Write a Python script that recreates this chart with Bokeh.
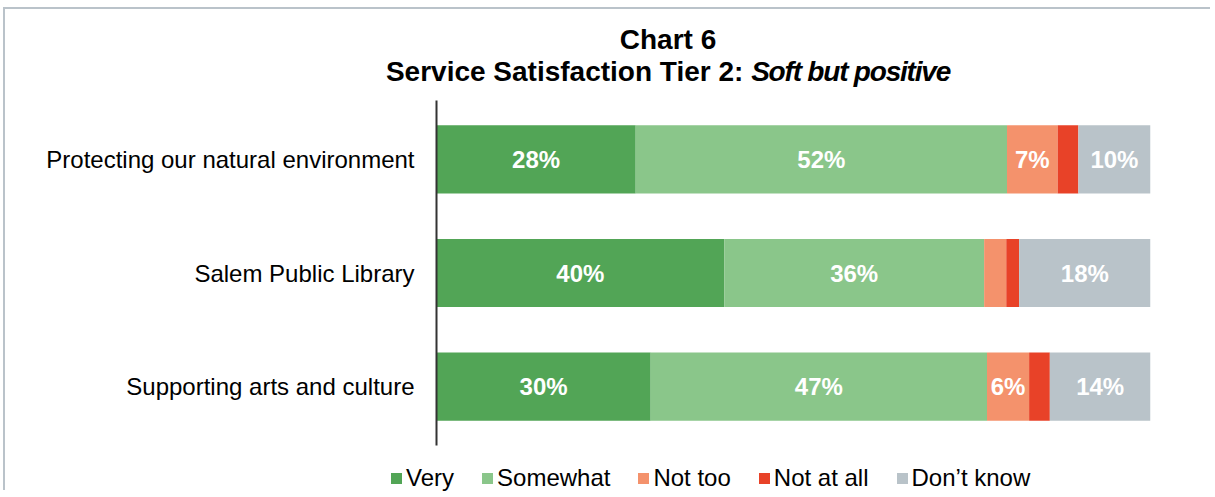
from bokeh.plotting import figure
from bokeh.layouts import column
from bokeh.models import ColumnDataSource, FactorRange, Range1d, LabelSet, Div
from bokeh.core.properties import value
from bokeh.embed import file_html
from bokeh.resources import INLINE

# ---- data ----
categories = ["Protecting our natural environment", "Salem Public Library", "Supporting arts and culture"]
series_names = ["Very", "Somewhat", "Not too", "Not at all", "Don\u2019t know"]
very = [27.9, 40.3, 30.0]
somewhat = [52.0, 36.4, 47.1]
not_too = [7.1, 3.1, 5.9]
not_at_all = [2.9, 1.8, 2.9]
dont_know = [10.1, 18.4, 14.1]
colors = ["#52A556", "#8AC68A", "#F4926C", "#E84228", "#B9C3C9"]
title_line1 = "Chart 6"
title_line2a = "Service Satisfaction Tier 2:"
title_line2b = "Soft but positive"

keys = ["very", "somewhat", "not_too", "not_at_all", "dont_know"]
series = [very, somewhat, not_too, not_at_all, dont_know]

FONT = "Liberation Sans"
W = 1205

# ---- title (HTML text) ----
title_html = (
    f'<div style="box-sizing:border-box;width:{W}px;padding-left:121px;padding-top:15px;text-align:center;'
    f"font-family:'{FONT}',Arial,sans-serif;font-weight:bold;font-size:28px;line-height:32px;color:#000;\">"
    f'{title_line1}<br>{title_line2a} <i style="letter-spacing:-1.2px">{title_line2b}</i></div>'
)
title = Div(text=title_html, width=W, height=78, margin=(0, 0, 0, 0))

# ---- main figure ----
p = figure(width=W, height=371,
           y_range=FactorRange(*reversed(categories), range_padding=0.011),
           x_range=Range1d(0, 100),
           output_backend="svg", toolbar_location=None,
           min_border_left=431, min_border_right=60,
           min_border_top=13, min_border_bottom=13)
p.outline_line_color = None
p.grid.visible = False
p.xaxis.visible = False
p.yaxis.major_tick_line_color = None
p.yaxis.minor_tick_line_color = None
p.yaxis.axis_line_color = "#333333"
p.yaxis.axis_line_width = 2
p.yaxis.major_label_text_font = FONT
p.yaxis.major_label_text_font_size = "24px"
p.yaxis.major_label_text_color = "#000000"
p.yaxis.major_label_standoff = 16

data = {"cat": categories}
for k, s in zip(keys, series):
    data[k] = s
source = ColumnDataSource(data)
p.hbar_stack(keys, y="cat", height=0.6, color=colors, line_color=None, source=source)

lx, ly, lt = [], [], []
for i, cat in enumerate(categories):
    start = 0.0
    for s in series:
        v = s[i]
        if round(v) >= 5:
            lx.append(start + v / 2)
            ly.append(cat)
            lt.append(f"{round(v)}%")
        start += v
lab_src = ColumnDataSource(dict(x=lx, y=ly, t=lt))
p.add_layout(LabelSet(x="x", y="y", text="t", source=lab_src,
                      text_align="center", text_baseline="middle",
                      text_color="white", text_font=value(FONT),
                      text_font_style="bold", text_font_size="24px"))

# ---- legend (HTML) ----
legend_items = "".join(
    f'<span style="display:inline-block;width:11px;height:11px;background:{c};margin-right:4px;"></span>'
    f'<span style="margin-right:28px;">{n}</span>'
    for n, c in zip(series_names, colors)
)
legend_html = (
    f'<div style="box-sizing:border-box;display:flex;align-items:center;width:{W}px;height:32px;'
    f"padding-left:386px;padding-top:8px;font-family:'{FONT}',Arial,sans-serif;font-size:24px;"
    f'line-height:28px;color:#000;white-space:nowrap;">{legend_items}</div>'
)
legend = Div(text=legend_html, width=W, height=32, margin=(0, 0, 0, 0))

layout = column(title, p, legend, spacing=0)
layout.styles = {"margin-left": "3px", "margin-top": "7px",
                 "border-left": "2px solid #BAC3CA", "border-top": "2px solid #BAC3CA"}

open("out.html", "w").write(file_html(layout, INLINE))
